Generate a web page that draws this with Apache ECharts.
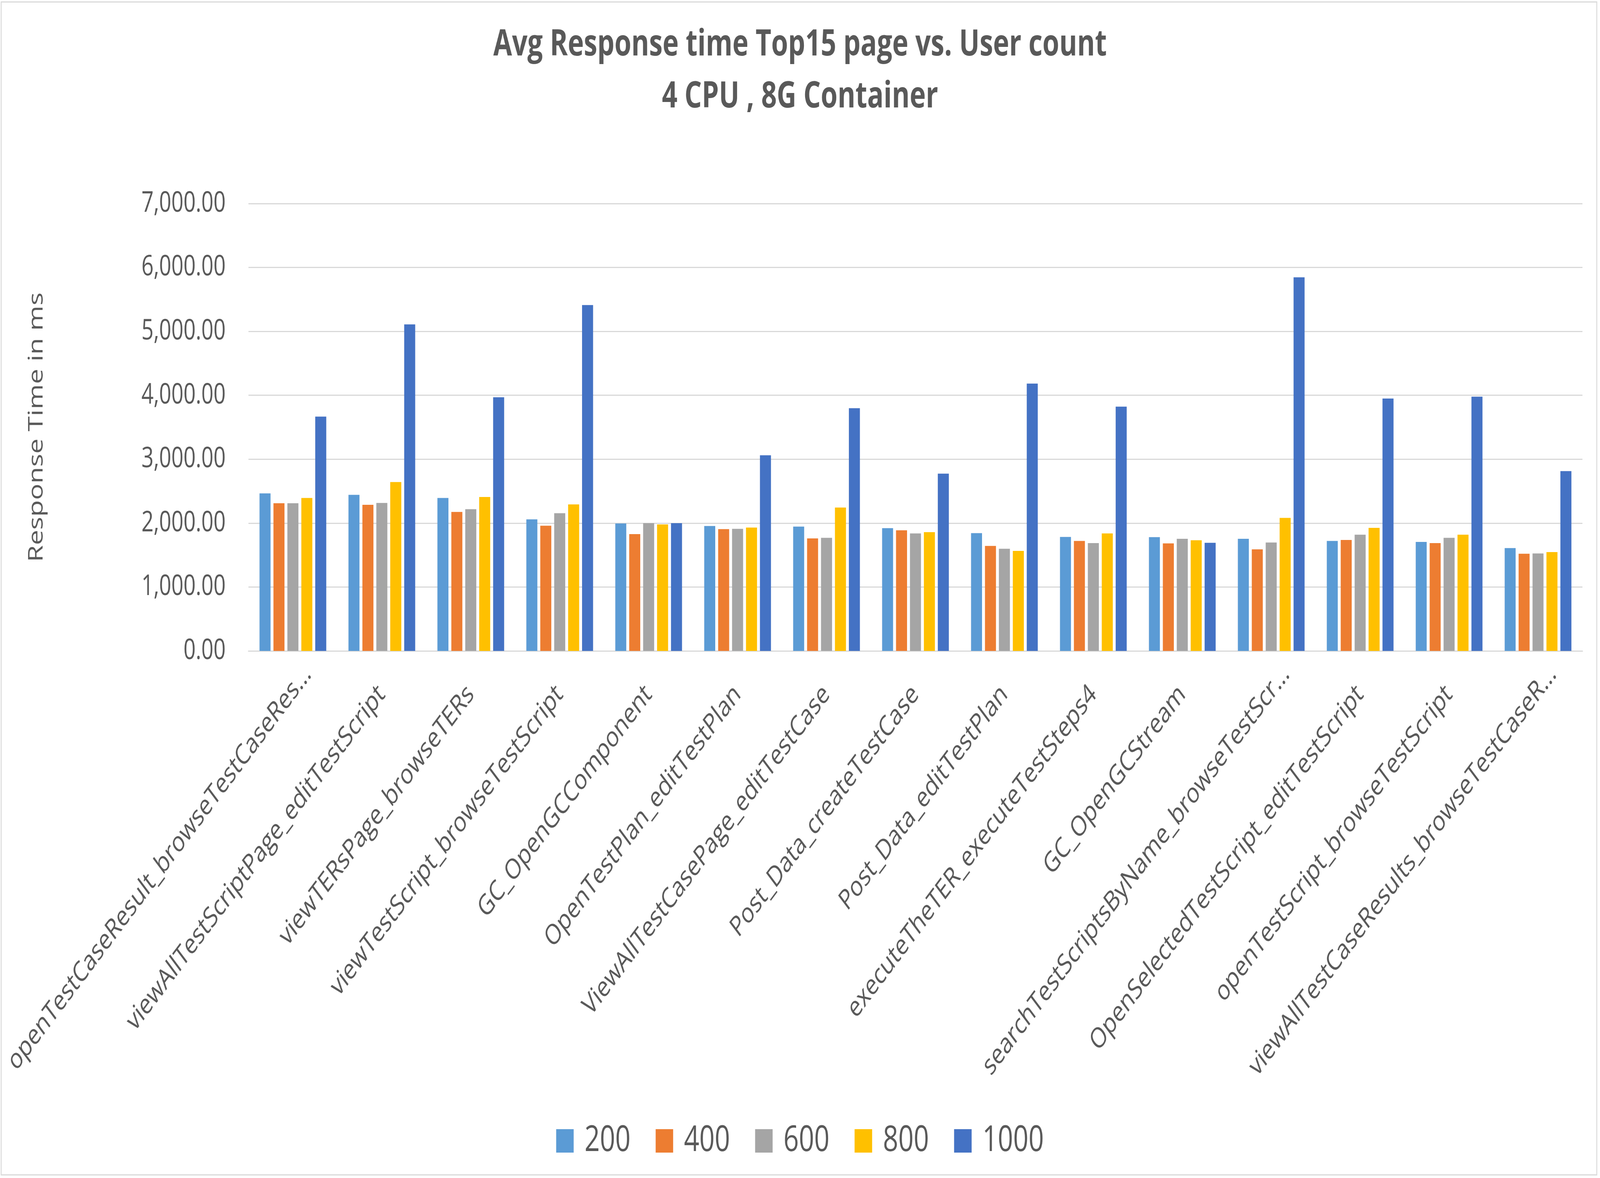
<!DOCTYPE html>
<html>
<head>
<meta charset="utf-8">
<script src="https://cdn.jsdelivr.net/npm/echarts@6/dist/echarts.min.js"></script>
<style>
html, body { margin: 0; padding: 0; background: #ffffff; overflow: hidden; }
#chart { width: 5481px; height: 3015px; transform-origin: 0 0; }
</style>
</head>
<body>
<div id="chart"></div>
<script>
const categories = [
  'openTestCaseResult_browseTestCaseRes...',
  'viewAllTestScriptPage_editTestScript',
  'viewTERsPage_browseTERs',
  'viewTestScript_browseTestScript',
  'GC_OpenGCComponent',
  'OpenTestPlan_editTestPlan',
  'ViewAllTestCasePage_editTestCase',
  'Post_Data_createTestCase',
  'Post_Data_editTestPlan',
  'executeTheTER_executeTestSteps4',
  'GC_OpenGCStream',
  'searchTestScriptsByName_browseTestScr...',
  'OpenSelectedTestScript_editTestScript',
  'openTestScript_browseTestScript',
  'viewAllTestCaseResults_browseTestCaseR...'
];
const seriesNames = ['200', '400', '600', '800', '1000'];
const users200  = [2465, 2443, 2394, 2058, 1994, 1955, 1945, 1921, 1843, 1784, 1780, 1755, 1721, 1706, 1609];
const users400  = [2311, 2287, 2175, 1960, 1828, 1906, 1760, 1887, 1643, 1721, 1682, 1589, 1736, 1687, 1521];
const users600  = [2311, 2316, 2218, 2155, 1999, 1911, 1770, 1838, 1599, 1687, 1755, 1697, 1819, 1770, 1526];
const users800  = [2394, 2643, 2409, 2292, 1980, 1931, 2243, 1858, 1565, 1838, 1731, 2082, 1926, 1819, 1546];
const users1000 = [3666, 5110, 3969, 5412, 1999, 3062, 3798, 2774, 4183, 3823, 1692, 5846, 3949, 3979, 2813];
const yTicks = { min: 0, max: 7000, interval: 1000 };
const colors = ['#5B9BD5', '#ED7D31', '#A5A5A5', '#FFC000', '#4472C4'];

const allValues = [users200, users400, users600, users800, users1000];
const textColor = '#595959';
const fontFamily = '"Open Sans", "Noto Sans", sans-serif';

// The chart is laid out at the reference size (5481 x 3015); if the
// browser viewport is smaller, the whole drawing is scaled to fit it.
const el = document.getElementById('chart');
const sx = Math.min(1, window.innerWidth / 5481);
const sy = Math.min(1, window.innerHeight / 3015);
el.style.transform = 'scale(' + sx + ',' + sy + ')';

const labelBase = { color: textColor, fontFamily: fontFamily, fontSize: 72 };

const chart = echarts.init(el, null, { renderer: 'canvas', width: 5481, height: 3015 });
chart.setOption({
  backgroundColor: '#ffffff',
  animation: false,
  color: colors,
  graphic: [{
    type: 'rect',
    shape: { x: 4, y: 5, width: 5466, height: 3002 },
    style: { fill: 'none', stroke: '#D9D9D9', lineWidth: 3 },
    silent: true
  }],
  title: {
    text: 'Avg Response time Top15 page vs. User count\n4 CPU , 8G Container',
    left: 'center',
    top: 49,
    padding: 0,
    textStyle: {
      color: textColor,
      fontFamily: fontFamily,
      fontWeight: 'bold',
      fontSize: 93,
      lineHeight: 133,
      align: 'center'
    }
  },
  legend: {
    data: seriesNames,
    top: 2869,
    left: 'center',
    icon: 'rect',
    itemWidth: 60,
    itemHeight: 60,
    itemGap: 86,
    textStyle: {
      color: textColor,
      fontFamily: fontFamily,
      fontSize: 92,
      lineHeight: 60,
      padding: [0, 0, 0, 32]
    }
  },
  grid: {
    left: 851,
    right: 60,
    top: 521,
    bottom: 1349,
    containLabel: false,
    outerBoundsMode: 'none'
  },
  xAxis: {
    type: 'category',
    data: categories,
    axisLine: { show: true, lineStyle: { color: '#D9D9D9', width: 3 } },
    axisTick: { show: false },
    splitLine: { show: false },
    axisLabel: Object.assign({
      interval: 0,
      rotate: 45,
      margin: 100,
      hideOverlap: false,
      formatter: function (v) {
        return /\.\.\.$/.test(v) ? '{t|' + v + '}' : '{n|' + v + '}';
      },
      rich: {
        n: Object.assign({}, labelBase),
        t: Object.assign({ padding: [0, -73, 0, 0] }, labelBase)
      }
    }, labelBase)
  },
  yAxis: {
    type: 'value',
    min: yTicks.min,
    max: yTicks.max,
    interval: yTicks.interval,
    name: 'Response Time in ms',
    nameLocation: 'middle',
    nameGap: 690,
    nameTextStyle: {
      color: textColor,
      fontFamily: fontFamily,
      fontSize: 70
    },
    axisLine: { show: false },
    axisTick: { show: false },
    splitLine: { show: true, lineStyle: { color: '#D9D9D9', width: 3 } },
    axisLabel: {
      margin: 78,
      color: textColor,
      fontFamily: fontFamily,
      fontSize: 73,
      formatter: function (v) {
        return v.toLocaleString('en-US', { minimumFractionDigits: 2, maximumFractionDigits: 2 });
      }
    }
  },
  series: seriesNames.map(function (name, i) {
    return {
      name: name,
      type: 'bar',
      data: allValues[i],
      barGap: '27%',
      barCategoryGap: '25%',
      itemStyle: { color: colors[i] }
    };
  })
});
</script>
</body>
</html>
